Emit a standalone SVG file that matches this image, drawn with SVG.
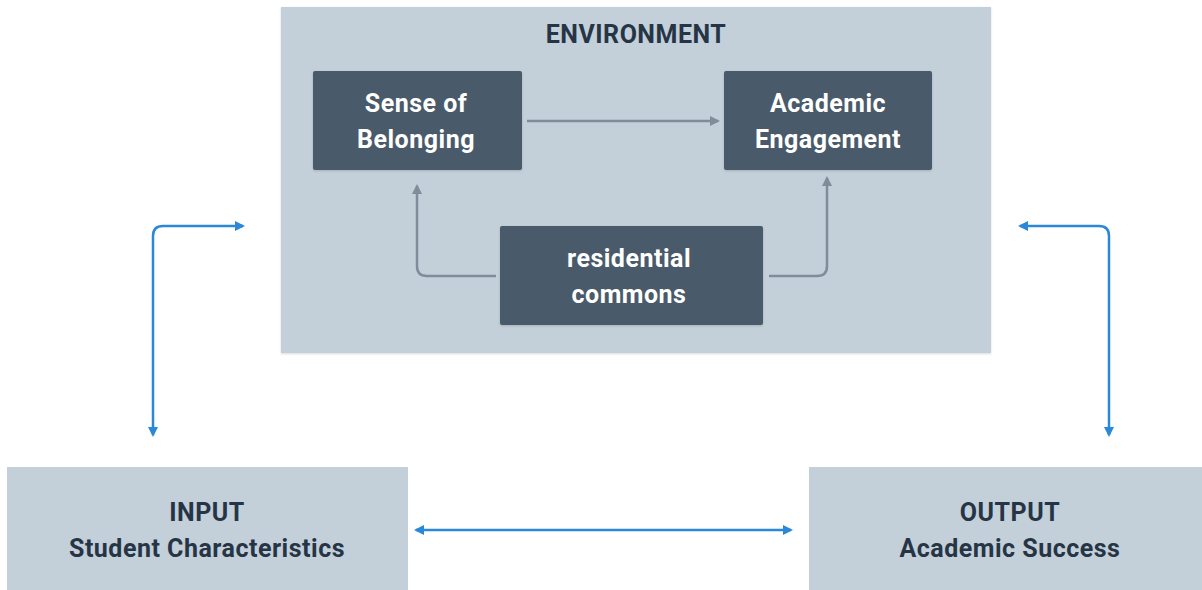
<svg xmlns="http://www.w3.org/2000/svg" width="1202" height="590" viewBox="0 0 1202 590">
<style>
.panel{fill:#c3cfd9}
.node{fill:#4a5a6a}
.lt{font-family:Roboto,"Liberation Sans",sans-serif;font-weight:bold;font-size:25px;letter-spacing:0.5px;fill:#ffffff;text-anchor:middle}
.dt{font-family:Roboto,"Liberation Sans",sans-serif;font-weight:bold;font-size:25px;letter-spacing:0.5px;fill:#263545;text-anchor:middle}
.g{fill:none;stroke:#7f8c99;stroke-width:2.5}
.b{fill:none;stroke:#2b87d8;stroke-width:2.5}
</style>
<defs>
<marker id="ag" viewBox="0 0 10 10" refX="8" refY="5" markerWidth="4" markerHeight="4" orient="auto-start-reverse"><path d="M0,0 L10,5 L0,10 z" fill="#7f8c99"/></marker>
<marker id="ab" viewBox="0 0 10 10" refX="8" refY="5" markerWidth="4" markerHeight="4" orient="auto-start-reverse"><path d="M0,0 L10,5 L0,10 z" fill="#2b87d8"/></marker>
<filter id="sh" x="-5%" y="-5%" width="110%" height="110%"><feDropShadow dx="0" dy="1" stdDeviation="1" flood-color="#000" flood-opacity="0.15"/></filter>
</defs>
<rect width="1202" height="590" fill="#ffffff"/>
<g id="environment">
<rect class="panel" x="281" y="7" width="710" height="346" filter="url(#sh)"/>
<text class="dt" x="636" y="43">ENVIRONMENT</text>
</g>
<g id="belonging">
<rect class="node" x="313" y="71" width="209" height="99" rx="2" filter="url(#sh)"/>
<text class="lt" x="416" y="112">Sense of</text>
<text class="lt" x="416" y="148">Belonging</text>
</g>
<g id="engagement">
<rect class="node" x="724" y="71" width="208" height="99" rx="2" filter="url(#sh)"/>
<text class="lt" x="828" y="112">Academic</text>
<text class="lt" x="828" y="148">Engagement</text>
</g>
<g id="commons">
<rect class="node" x="500" y="226" width="263" height="99" rx="2" filter="url(#sh)"/>
<text class="lt" x="629" y="267">residential</text>
<text class="lt" x="629" y="303">commons</text>
</g>
<g id="input">
<rect class="panel" x="7" y="467" width="401" height="130"/>
<text class="dt" x="207" y="521">INPUT</text>
<text class="dt" x="207" y="557">Student Characteristics</text>
</g>
<g id="output">
<rect class="panel" x="809" y="467" width="400" height="130"/>
<text class="dt" x="1010" y="521">OUTPUT</text>
<text class="dt" x="1010" y="557">Academic Success</text>
</g>
<g id="connectors">
<path class="g" d="M527,121 H718" marker-end="url(#ag)"/>
<path class="g" d="M496,276 H427 Q417,276 417,266 V186" marker-end="url(#ag)"/>
<path class="g" d="M769,276 H817 Q827,276 827,266 V178" marker-end="url(#ag)"/>
<path class="b" d="M416,530 H791" marker-start="url(#ab)" marker-end="url(#ab)"/>
<path class="b" d="M153,435 V236 Q153,226 163,226 H243" marker-start="url(#ab)" marker-end="url(#ab)"/>
<path class="b" d="M1020,226 H1099 Q1109,226 1109,236 V435" marker-start="url(#ab)" marker-end="url(#ab)"/>
</g>
</svg>
